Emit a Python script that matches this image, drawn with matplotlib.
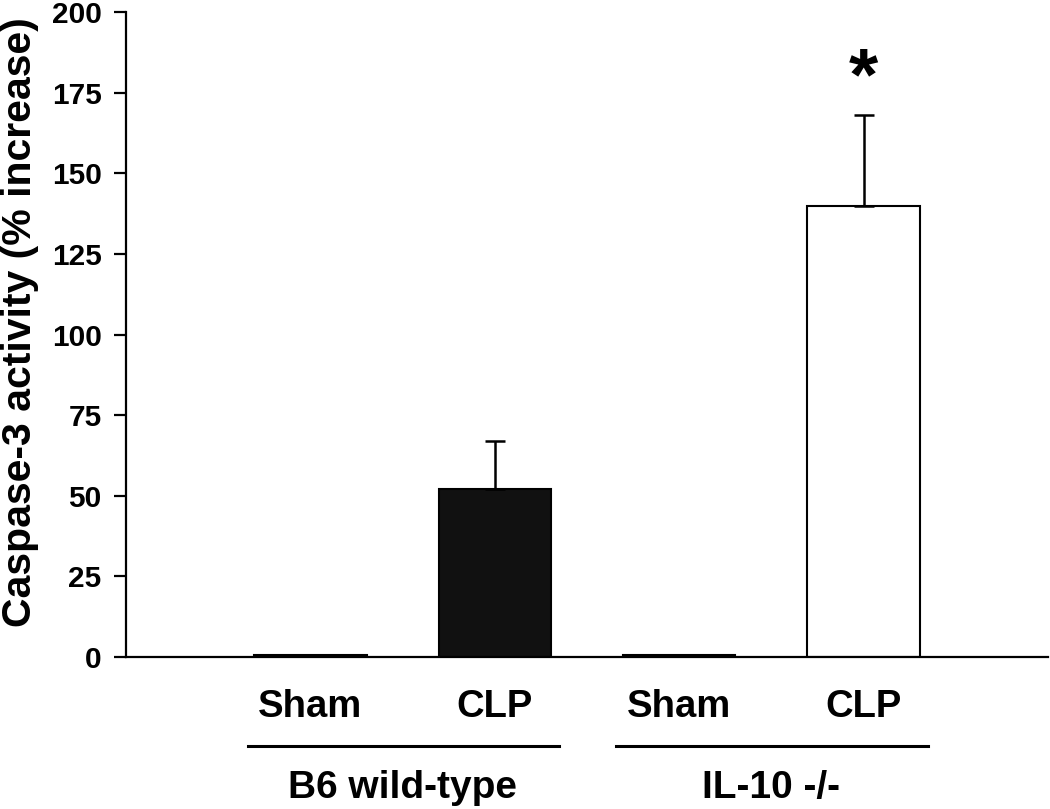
import matplotlib
matplotlib.use("Agg")
import matplotlib.pyplot as plt

plt.rcParams['font.family'] = ['Liberation Sans', 'DejaVu Sans']
plt.rcParams['font.weight'] = 'bold'

conditions = ["Sham", "CLP", "Sham", "CLP"]
groups = ["B6 wild-type", "IL-10 -/-"]
values = [0.7, 52, 0.7, 140]
errors_up = [0, 15, 0, 28]
colors = ["black", "#111111", "black", "white"]
yticks = [0, 25, 50, 75, 100, 125, 150, 175, 200]

fig = plt.figure(figsize=(10.5, 8.09), dpi=100)
ax = fig.add_axes([0.12, 0.188, 0.878, 0.797])

x = [1, 2, 3, 4]
ax.bar(x, values, width=0.61, color=colors, edgecolor="black", linewidth=1.5, zorder=2)
for xi, v, e in zip(x, values, errors_up):
    if e > 0:
        ax.errorbar([xi], [v], yerr=[[0], [e]], fmt='none', ecolor='black',
                    elinewidth=1.8, capsize=7.5, capthick=1.8, zorder=3)
ax.text(4, 179, "*", ha='center', va='center', fontsize=54, fontweight='bold')

ax.set_xlim(0, 5)
ax.set_ylim(0, 200)
ax.set_yticks(yticks)
ax.set_yticklabels([str(t) for t in yticks], fontsize=21.5, fontweight='bold')
ax.set_xticks([])
ax.spines['top'].set_visible(False)
ax.spines['right'].set_visible(False)
ax.spines['left'].set_linewidth(1.6)
ax.spines['bottom'].set_linewidth(1.6)
ax.tick_params(axis='y', direction='out', length=9, width=1.6, pad=8.5)
fig.text(20 / 1050, 1 - 322 / 809, "Caspase-3 activity (% increase)", rotation=90,
         ha='center', va='center', fontsize=29.5, fontweight='bold')

trans = ax.get_xaxis_transform()
for xi, c in zip(x, conditions):
    ax.text(xi, -0.078, c, transform=trans, ha='center', va='center', fontsize=27.5, fontweight='bold')
for gi, g in enumerate(groups):
    x0 = x[2 * gi] - 0.34
    x1 = x[2 * gi + 1] + 0.35
    ax.plot([x0, x1], [-0.138, -0.138], transform=trans, color='black', lw=2.2, clip_on=False)
    ax.text((x[2 * gi] + x[2 * gi + 1]) / 2, -0.203, g, transform=trans, ha='center', va='center',
            fontsize=28, fontweight='bold')

fig.savefig("out.png", dpi=100)
